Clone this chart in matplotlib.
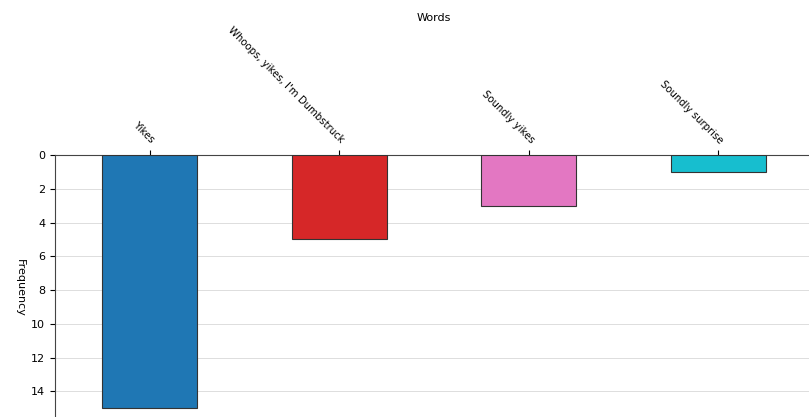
import matplotlib
matplotlib.use("Agg")
import matplotlib.pyplot as plt

categories = ["Yikes", "Whoops, yikes, I'm Dumbstruck", "Soundly yikes", "Soundly surprise"]
frequency = [15, 5, 3, 1]
bar_colors = ["#1f77b4", "#d62728", "#e377c2", "#17becf"]
y_ticks = [0, 2, 4, 6, 8, 10, 12, 14]

fig = plt.figure(figsize=(8.09, 4.17), dpi=100)
ax = fig.add_axes([55 / 809, -4 / 417, (813 - 55) / 809, (421 - 155) / 417])

x = list(range(len(categories)))
ax.bar(x, frequency, width=0.5, color=bar_colors, edgecolor="#333333", linewidth=0.8, zorder=3)
ax.set_xlim(-0.5, len(categories) - 0.5)
ax.set_ylim(15.75, 0)
ax.set_yticks(y_ticks)
ax.yaxis.grid(True, color="#dddddd", linewidth=0.7, zorder=0)
ax.set_axisbelow(True)

ax.xaxis.tick_top()
ax.xaxis.set_label_position("top")
ax.set_xticks(x)
ax.set_xticklabels(categories, rotation=-45, ha="right", va="bottom",
                   rotation_mode="anchor", fontsize=7.3)
ax.tick_params(axis="y", labelsize=8)
ax.set_xlabel("Words", fontsize=8, va="center")
ax.xaxis.set_label_coords(0.5, 1.515)
ax.set_ylabel("Frequency", fontsize=8, rotation=270, labelpad=12, va="bottom")
for s in ["bottom", "right"]:
    ax.spines[s].set_visible(False)
for s in ["top", "left"]:
    ax.spines[s].set_color("#444444")

fig.savefig("out.png", dpi=100)
